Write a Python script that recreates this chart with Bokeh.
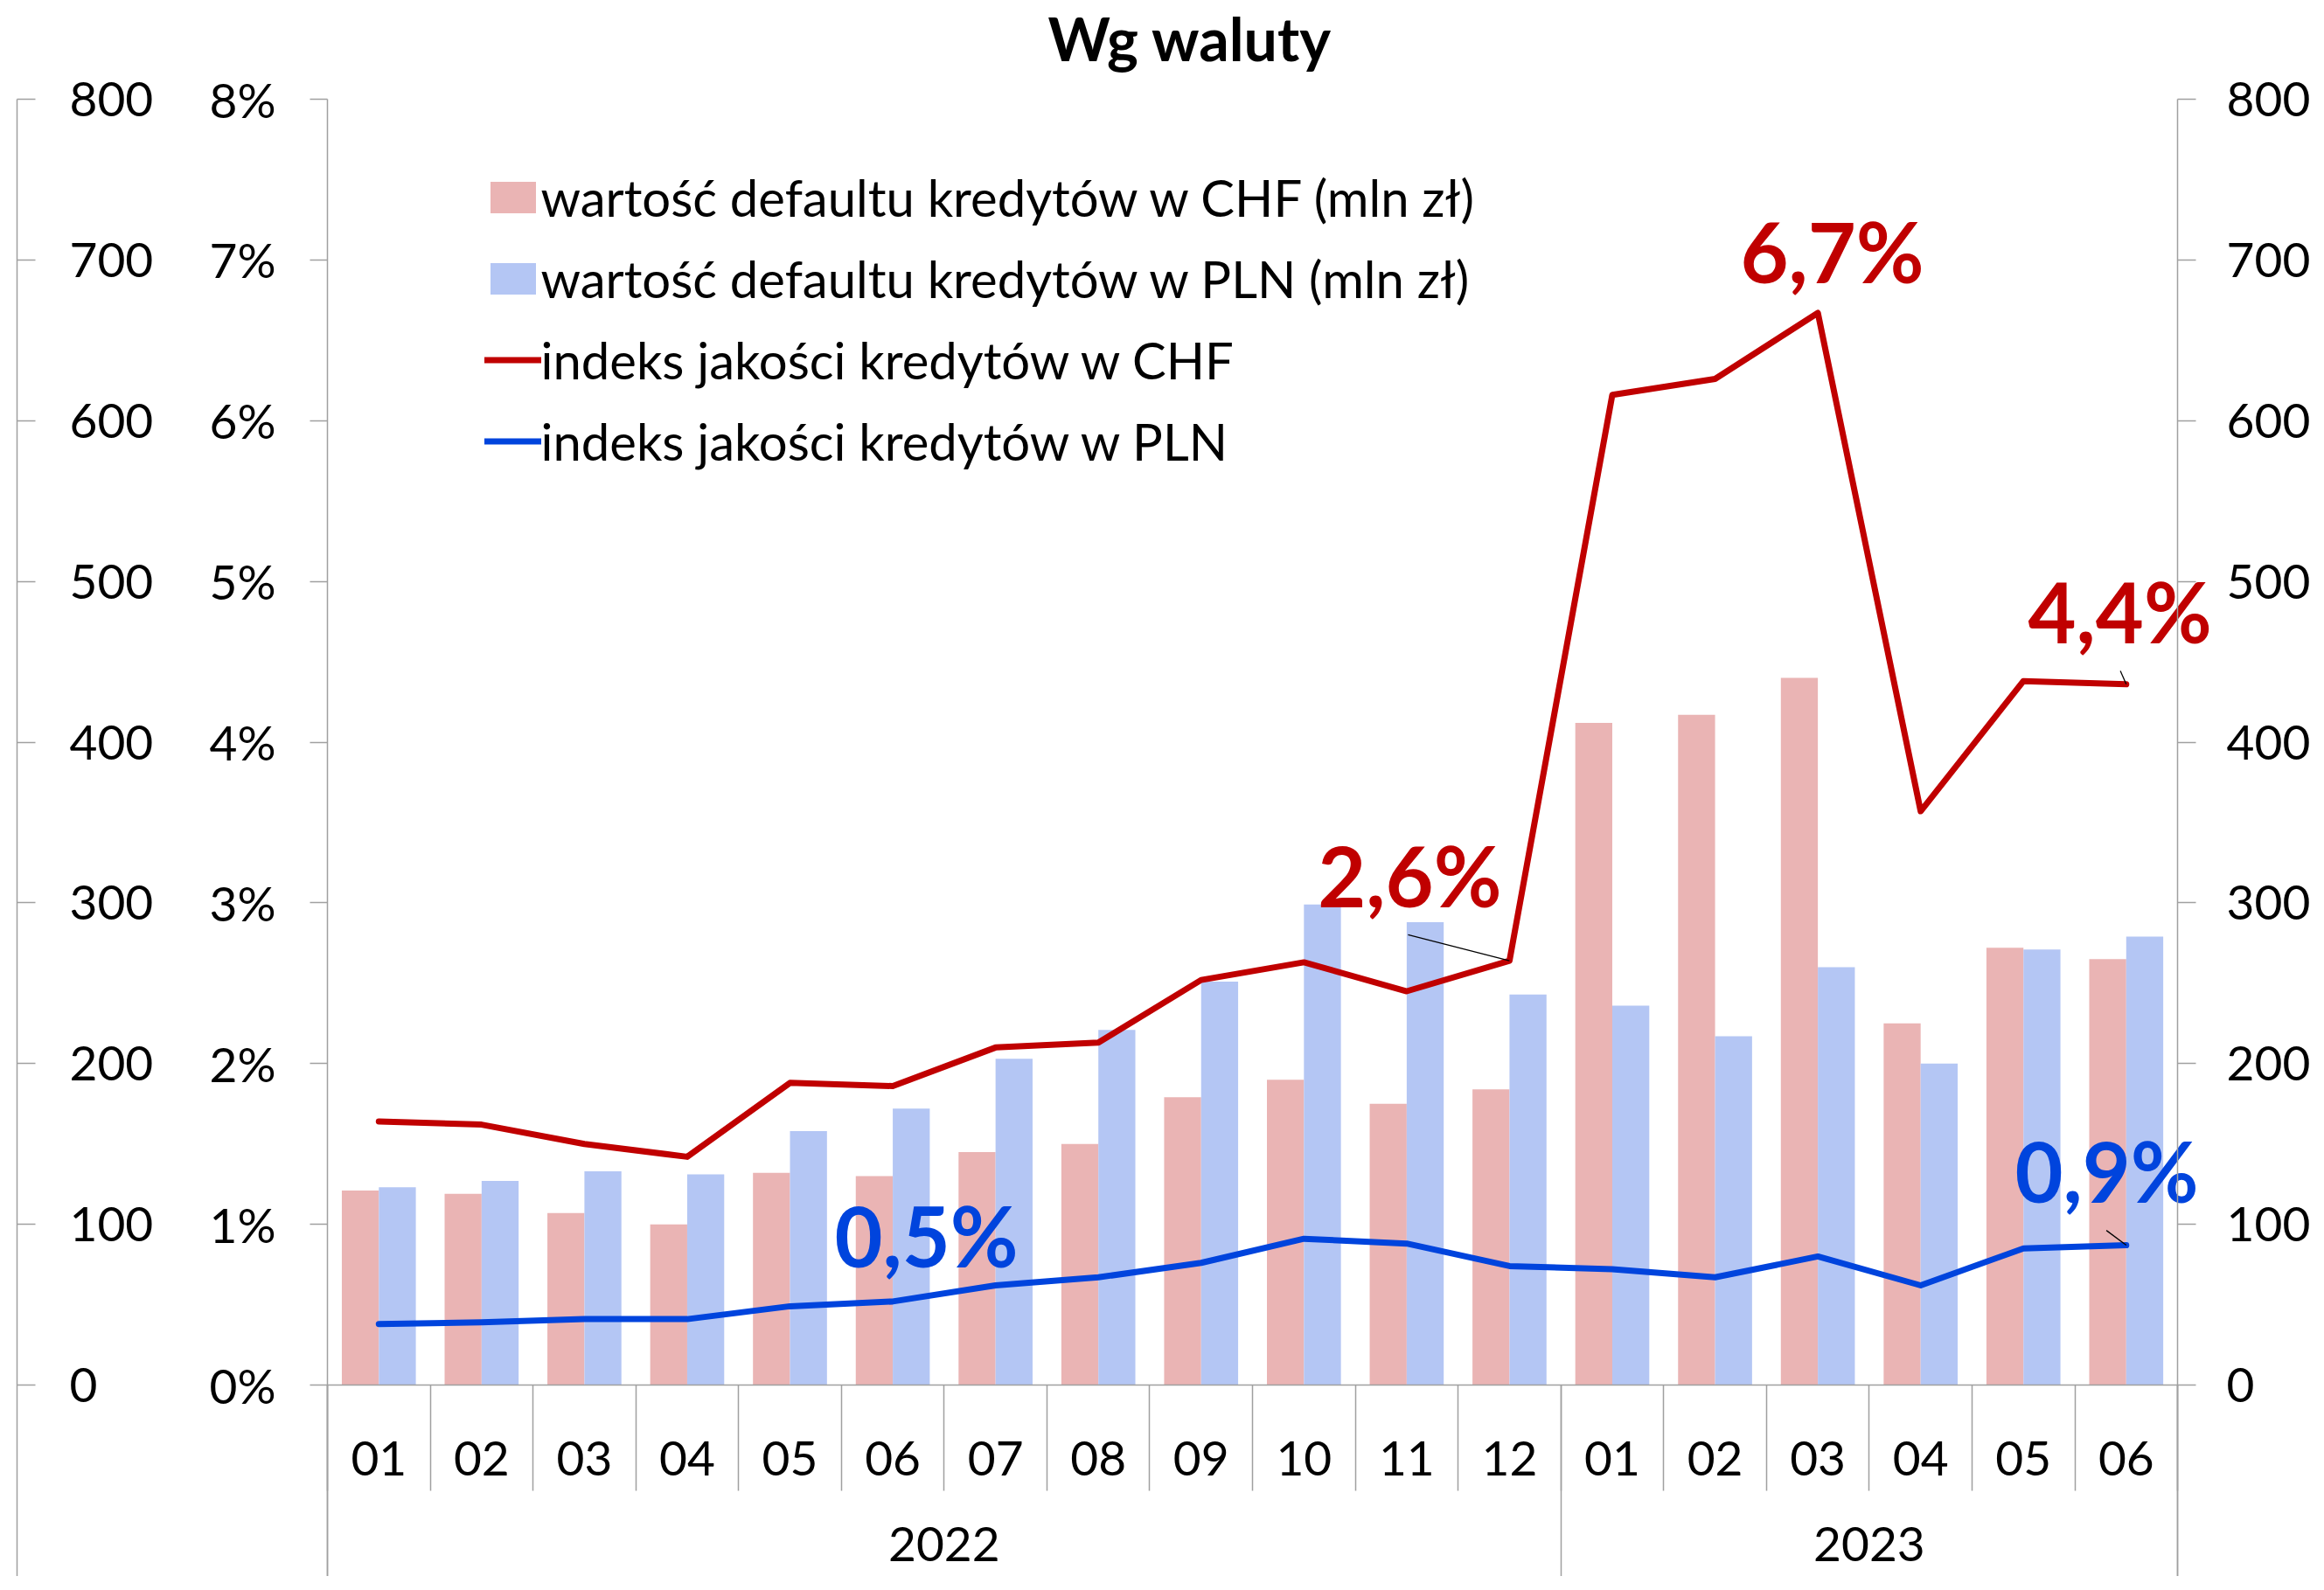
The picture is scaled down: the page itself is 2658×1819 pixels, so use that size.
from bokeh.plotting import figure
from bokeh.models import (Range1d, LinearAxis, FixedTicker, PrintfTickFormatter,
                          Legend, LegendItem, Label, ColumnDataSource)
from bokeh.transform import dodge
from bokeh.core.properties import value
from bokeh.embed import file_html
from bokeh.resources import INLINE

# ---------------- data ----------------
years = ["2022", "2023"]
year_sizes = [12, 6]
months = ["01", "02", "03", "04", "05", "06", "07", "08", "09", "10", "11", "12",
          "01", "02", "03", "04", "05", "06"]
# value of defaulted loans (mln zł)
chf_default = [121, 119, 107, 100, 132, 130, 145, 150, 179, 190, 175, 184,
               412, 417, 440, 225, 272, 265]
pln_default = [123, 127, 133, 131, 158, 172, 203, 221, 251, 299, 288, 243,
               236, 217, 260, 200, 271, 279]
# loan quality index (%)
chf_index = [1.64, 1.62, 1.50, 1.42, 1.88, 1.86, 2.10, 2.13, 2.52, 2.63, 2.45, 2.64,
             6.16, 6.26, 6.67, 3.57, 4.38, 4.36]
pln_index = [0.38, 0.39, 0.41, 0.41, 0.49, 0.52, 0.62, 0.67, 0.76, 0.91, 0.88, 0.74,
             0.72, 0.67, 0.80, 0.62, 0.85, 0.87]
value_ticks = [0, 100, 200, 300, 400, 500, 600, 700, 800]
pct_ticks = [0, 1, 2, 3, 4, 5, 6, 7, 8]

legend_labels = ["wartość defaultu kredytów w CHF (mln zł)",
                 "wartość defaultu kredytów w PLN (mln zł)",
                 "indeks jakości kredytów w CHF",
                 "indeks jakości kredytów w PLN"]

ann_text = ["2,6%", "6,7%", "4,4%", "0,5%", "0,9%"]
ann_series = ["chf", "chf", "chf", "pln", "pln"]
ann_index = [11, 14, 17, 5, 17]

# ---------------- layout / style ----------------
W, H = 2642, 1803
X0_PX = 374.0          # category boundary 0 (px)
UNIT_PX = 117.56       # width of one category
Y0_PX = 1584.0         # value 0 (px)
PX_PER_VAL = 1.83875   # px per mln zł  (100x for percent)

xl = -X0_PX / UNIT_PX
xr = (W - X0_PX) / UNIT_PX
yt = Y0_PX / PX_PER_VAL
yb = -(H - Y0_PX) / PX_PER_VAL

PINK = "#EAB4B4"
LBLUE = "#B4C6F4"
RED = "#C00000"
BLUE = "#0044DD"
GREY = "#A0A0A0"
FONT = "Lato"
TICK_FS = "55px"

BAR_OFF, BAR_W = 0.18, 0.36

# annotation offsets from the labelled point (x in categories, y in %)
ann_dx = [-0.970, 0.140, -0.061, 0.327, -0.189]
ann_dy = [0.531, 0.389, 0.458, 0.410, 0.467]
lead_dx = [-0.987, None, -0.057, None, -0.193]
lead_dy = [0.161, None, 0.083, None, 0.092]

# ---------------- figure ----------------
p = figure(width=W, height=H, x_range=Range1d(xl, xr), y_range=Range1d(yb, yt),
           x_axis_location=None, y_axis_location=None, toolbar_location=None,
           output_backend="svg", min_border=0, outline_line_color=None)
p.min_border_left = p.min_border_right = p.min_border_top = p.min_border_bottom = 0
p.extra_y_ranges = {"pct": Range1d(yb / 100.0, yt / 100.0)}
p.grid.visible = False
p.background_fill_color = "white"
p.border_fill_color = "white"

centers = [i + 0.5 for i in range(len(months))]
src = ColumnDataSource(dict(x=centers, chf=chf_default, pln=pln_default,
                            chf_idx=chf_index, pln_idx=pln_index))

r_chf = p.vbar(x=dodge("x", -BAR_OFF), top="chf", bottom=0, width=BAR_W, source=src,
               fill_color=PINK, line_color=None)
r_pln = p.vbar(x=dodge("x", BAR_OFF), top="pln", bottom=0, width=BAR_W, source=src,
               fill_color=LBLUE, line_color=None)
l_chf = p.line("x", "chf_idx", source=src, y_range_name="pct", line_color=RED,
               line_width=7, line_cap="round", line_join="round")
l_pln = p.line("x", "pln_idx", source=src, y_range_name="pct", line_color=BLUE,
               line_width=7, line_cap="round", line_join="round")

# ---------------- annotations ----------------
series = {"chf": chf_index, "pln": pln_index}
tx, ty, tc = [], [], []
sx0, sy0, sx1, sy1 = [], [], [], []
for k, t in enumerate(ann_text):
    i = ann_index[k]
    px, py = centers[i], series[ann_series[k]][i]
    tx.append(px + ann_dx[k])
    ty.append(py + ann_dy[k])
    tc.append(RED if ann_series[k] == "chf" else BLUE)
    if lead_dx[k] is not None:
        sx0.append(px + lead_dx[k]); sy0.append(py + lead_dy[k])
        sx1.append(px); sy1.append(py)

p.segment(x0=sx0, y0=sy0, x1=sx1, y1=sy1, y_range_name="pct",
          line_color="black", line_width=1.3)
p.text(x=tx, y=ty, text=ann_text, y_range_name="pct", text_color=tc,
       text_font=value(FONT), text_font_style="bold", text_font_size="95px",
       text_align="center", text_baseline="alphabetic")

# ---------------- axes ----------------
def style(ax, size=TICK_FS):
    ax.axis_line_color = GREY
    ax.axis_line_width = 1.5
    ax.major_tick_line_color = GREY
    ax.major_tick_line_width = 1.5
    ax.minor_tick_line_color = None
    ax.major_tick_in = 0
    ax.major_label_text_font = FONT
    ax.major_label_text_font_size = size
    ax.major_label_text_color = "black"

# percent axis (inner left)
ax_pct = LinearAxis(y_range_name="pct", fixed_location=0, bounds=(yb / 100.0, 8),
                    ticker=FixedTicker(ticks=pct_ticks),
                    formatter=PrintfTickFormatter(format="%d%%"))
style(ax_pct)
ax_pct.major_tick_out = 20
ax_pct.major_label_standoff = 39
p.add_layout(ax_pct, "left")

# outer left value axis (labels to the right of its line)
ax_left = LinearAxis(fixed_location=(19 - X0_PX) / UNIT_PX, bounds=(yb, 800),
                     ticker=FixedTicker(ticks=value_ticks))
style(ax_left)
ax_left.major_tick_out = 21
ax_left.major_label_standoff = 39
p.add_layout(ax_left, "right")

# right value axis
ax_right = LinearAxis(fixed_location=len(months), bounds=(yb, 800),
                      ticker=FixedTicker(ticks=value_ticks))
style(ax_right)
ax_right.major_tick_out = 21
ax_right.major_label_standoff = 35
p.add_layout(ax_right, "right")

# month labels + baseline
ax_month = LinearAxis(fixed_location=0, bounds=(0, len(months)),
                      ticker=FixedTicker(ticks=centers),
                      major_label_overrides={c: m for c, m in zip(centers, months)})
style(ax_month)
ax_month.major_tick_out = 0
ax_month.major_label_standoff = 64
p.add_layout(ax_month, "below")

# month dividers
bounds_ticks = list(range(len(months) + 1))
ax_div = LinearAxis(fixed_location=0, ticker=FixedTicker(ticks=bounds_ticks),
                    major_label_overrides={b: "" for b in bounds_ticks})
style(ax_div)
ax_div.axis_line_color = None
ax_div.major_tick_out = 121
p.add_layout(ax_div, "below")

# year dividers
edges = [0]
for s in year_sizes:
    edges.append(edges[-1] + s)
ax_ydiv = LinearAxis(fixed_location=0, ticker=FixedTicker(ticks=edges),
                     major_label_overrides={e: "" for e in edges})
style(ax_ydiv)
ax_ydiv.axis_line_color = None
ax_ydiv.major_tick_out = 260
p.add_layout(ax_ydiv, "below")

# year labels
ymid = [(edges[i] + edges[i + 1]) / 2 for i in range(len(years))]
ax_year = LinearAxis(fixed_location=0, ticker=FixedTicker(ticks=ymid),
                     major_label_overrides={m: y for m, y in zip(ymid, years)})
style(ax_year)
ax_year.axis_line_color = None
ax_year.major_tick_out = 0
ax_year.major_label_standoff = 162
p.add_layout(ax_year, "below")

# ---------------- title ----------------
title = Label(x=(1360.5 - X0_PX) / UNIT_PX, y=(Y0_PX - 42.7) / PX_PER_VAL,
              text="Wg waluty", text_font=FONT, text_font_style="bold",
              text_font_size="68px", text_align="center", text_baseline="alphabetic",
              text_color="black")
p.add_layout(title)

# ---------------- legend ----------------
row_h, spacing = 70, 23
leg_top = 190
leg_h = 4 * row_h + 3 * spacing
legend = Legend(items=[LegendItem(label=legend_labels[0], renderers=[r_chf]),
                       LegendItem(label=legend_labels[1], renderers=[r_pln]),
                       LegendItem(label=legend_labels[2], renderers=[l_chf]),
                       LegendItem(label=legend_labels[3], renderers=[l_pln])],
                location=(553.5, H - leg_top - leg_h),
                label_text_font=FONT, label_text_font_size="58px",
                label_text_color="black", label_height=row_h,
                glyph_width=65, glyph_height=45, label_standoff=0,
                spacing=spacing, padding=0, margin=0,
                border_line_color=None, background_fill_alpha=0)
p.add_layout(legend)

open("out.html", "w").write(file_html(p, INLINE))
